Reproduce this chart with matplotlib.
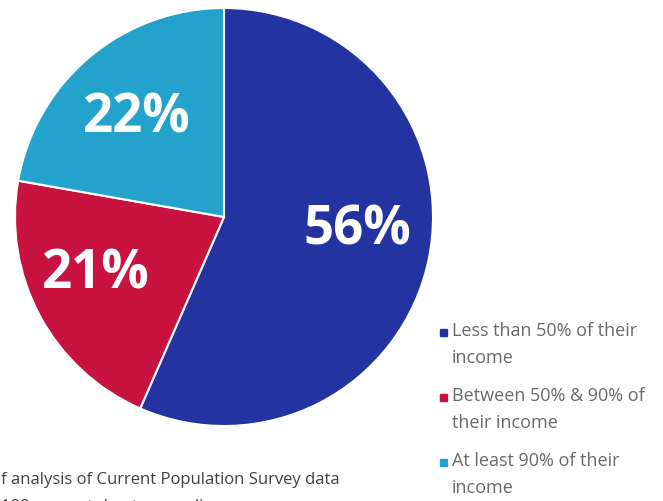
import matplotlib
matplotlib.use("Agg")
import matplotlib.pyplot as plt
import numpy as np
from matplotlib.patches import Rectangle

# share of renters by rent burden
labels = ["Less than 50% of their\nincome",
          "Between 50% & 90% of\ntheir income",
          "At least 90% of their\nincome"]
values = [56, 21, 22]
pct_labels = ["56%", "21%", "22%"]
colors = ["#2334A0", "#C8123F", "#22A2CC"]

W, H = 663, 501
fig = plt.figure(figsize=(W / 100, H / 100), dpi=100)

# pie axes: centre (224, 217) px, radius 209 px
cx, cy, r = 224, 217, 209
ax = fig.add_axes([(cx - r) / W, 1 - (cy + r) / H, 2 * r / W, 2 * r / H])
wedges, _ = ax.pie(values, colors=colors, startangle=90, counterclock=False,
                   radius=1.0, wedgeprops=dict(edgecolor="white", linewidth=1.5))
ax.set_xlim(-1, 1)
ax.set_ylim(-1, 1)
ax.set_aspect("equal")
ax.axis("off")

# percentage labels: where they sit inside each wedge (angle fraction, radius)
fracs = [0.54, 0.42, 0.50]
dists = [0.64, 0.66, 0.65]
for w, txt, f, d in zip(wedges, pct_labels, fracs, dists):
    ang = np.deg2rad(w.theta1 + f * (w.theta2 - w.theta1))
    ax.text(d * np.cos(ang), d * np.sin(ang) - 0.025, txt, ha="center", va="center",
            fontsize=38, fontweight="bold", color="white", family="Open Sans")

# legend, drawn by hand so the marker sits on the first line
first_line_y = [332, 397, 462]
for lab, col, y in zip(labels, colors, first_line_y):
    fig.add_artist(Rectangle((440 / W, 1 - (y + 3.5) / H), 7 / W, 7 / H,
                             transform=fig.transFigure, color=col))
    fig.text(452 / W, 1 - (y - 10) / H, lab, ha="left", va="top",
             fontsize=13, color="#6a6a6a", family="Open Sans", linespacing=1.65)

# note at the bottom, partly cut off by the frame
fig.text(1 / W, 1 - 480 / H, "f analysis of Current Population Survey data",
         ha="left", va="center", fontsize=12, color="#404040", family="Open Sans")
fig.text(1 / W, 1 - 507 / H, "100 percent due to rounding",
         ha="left", va="center", fontsize=12, color="#404040", family="Open Sans")

fig.savefig("out.png", dpi=100)
plt.close(fig)
